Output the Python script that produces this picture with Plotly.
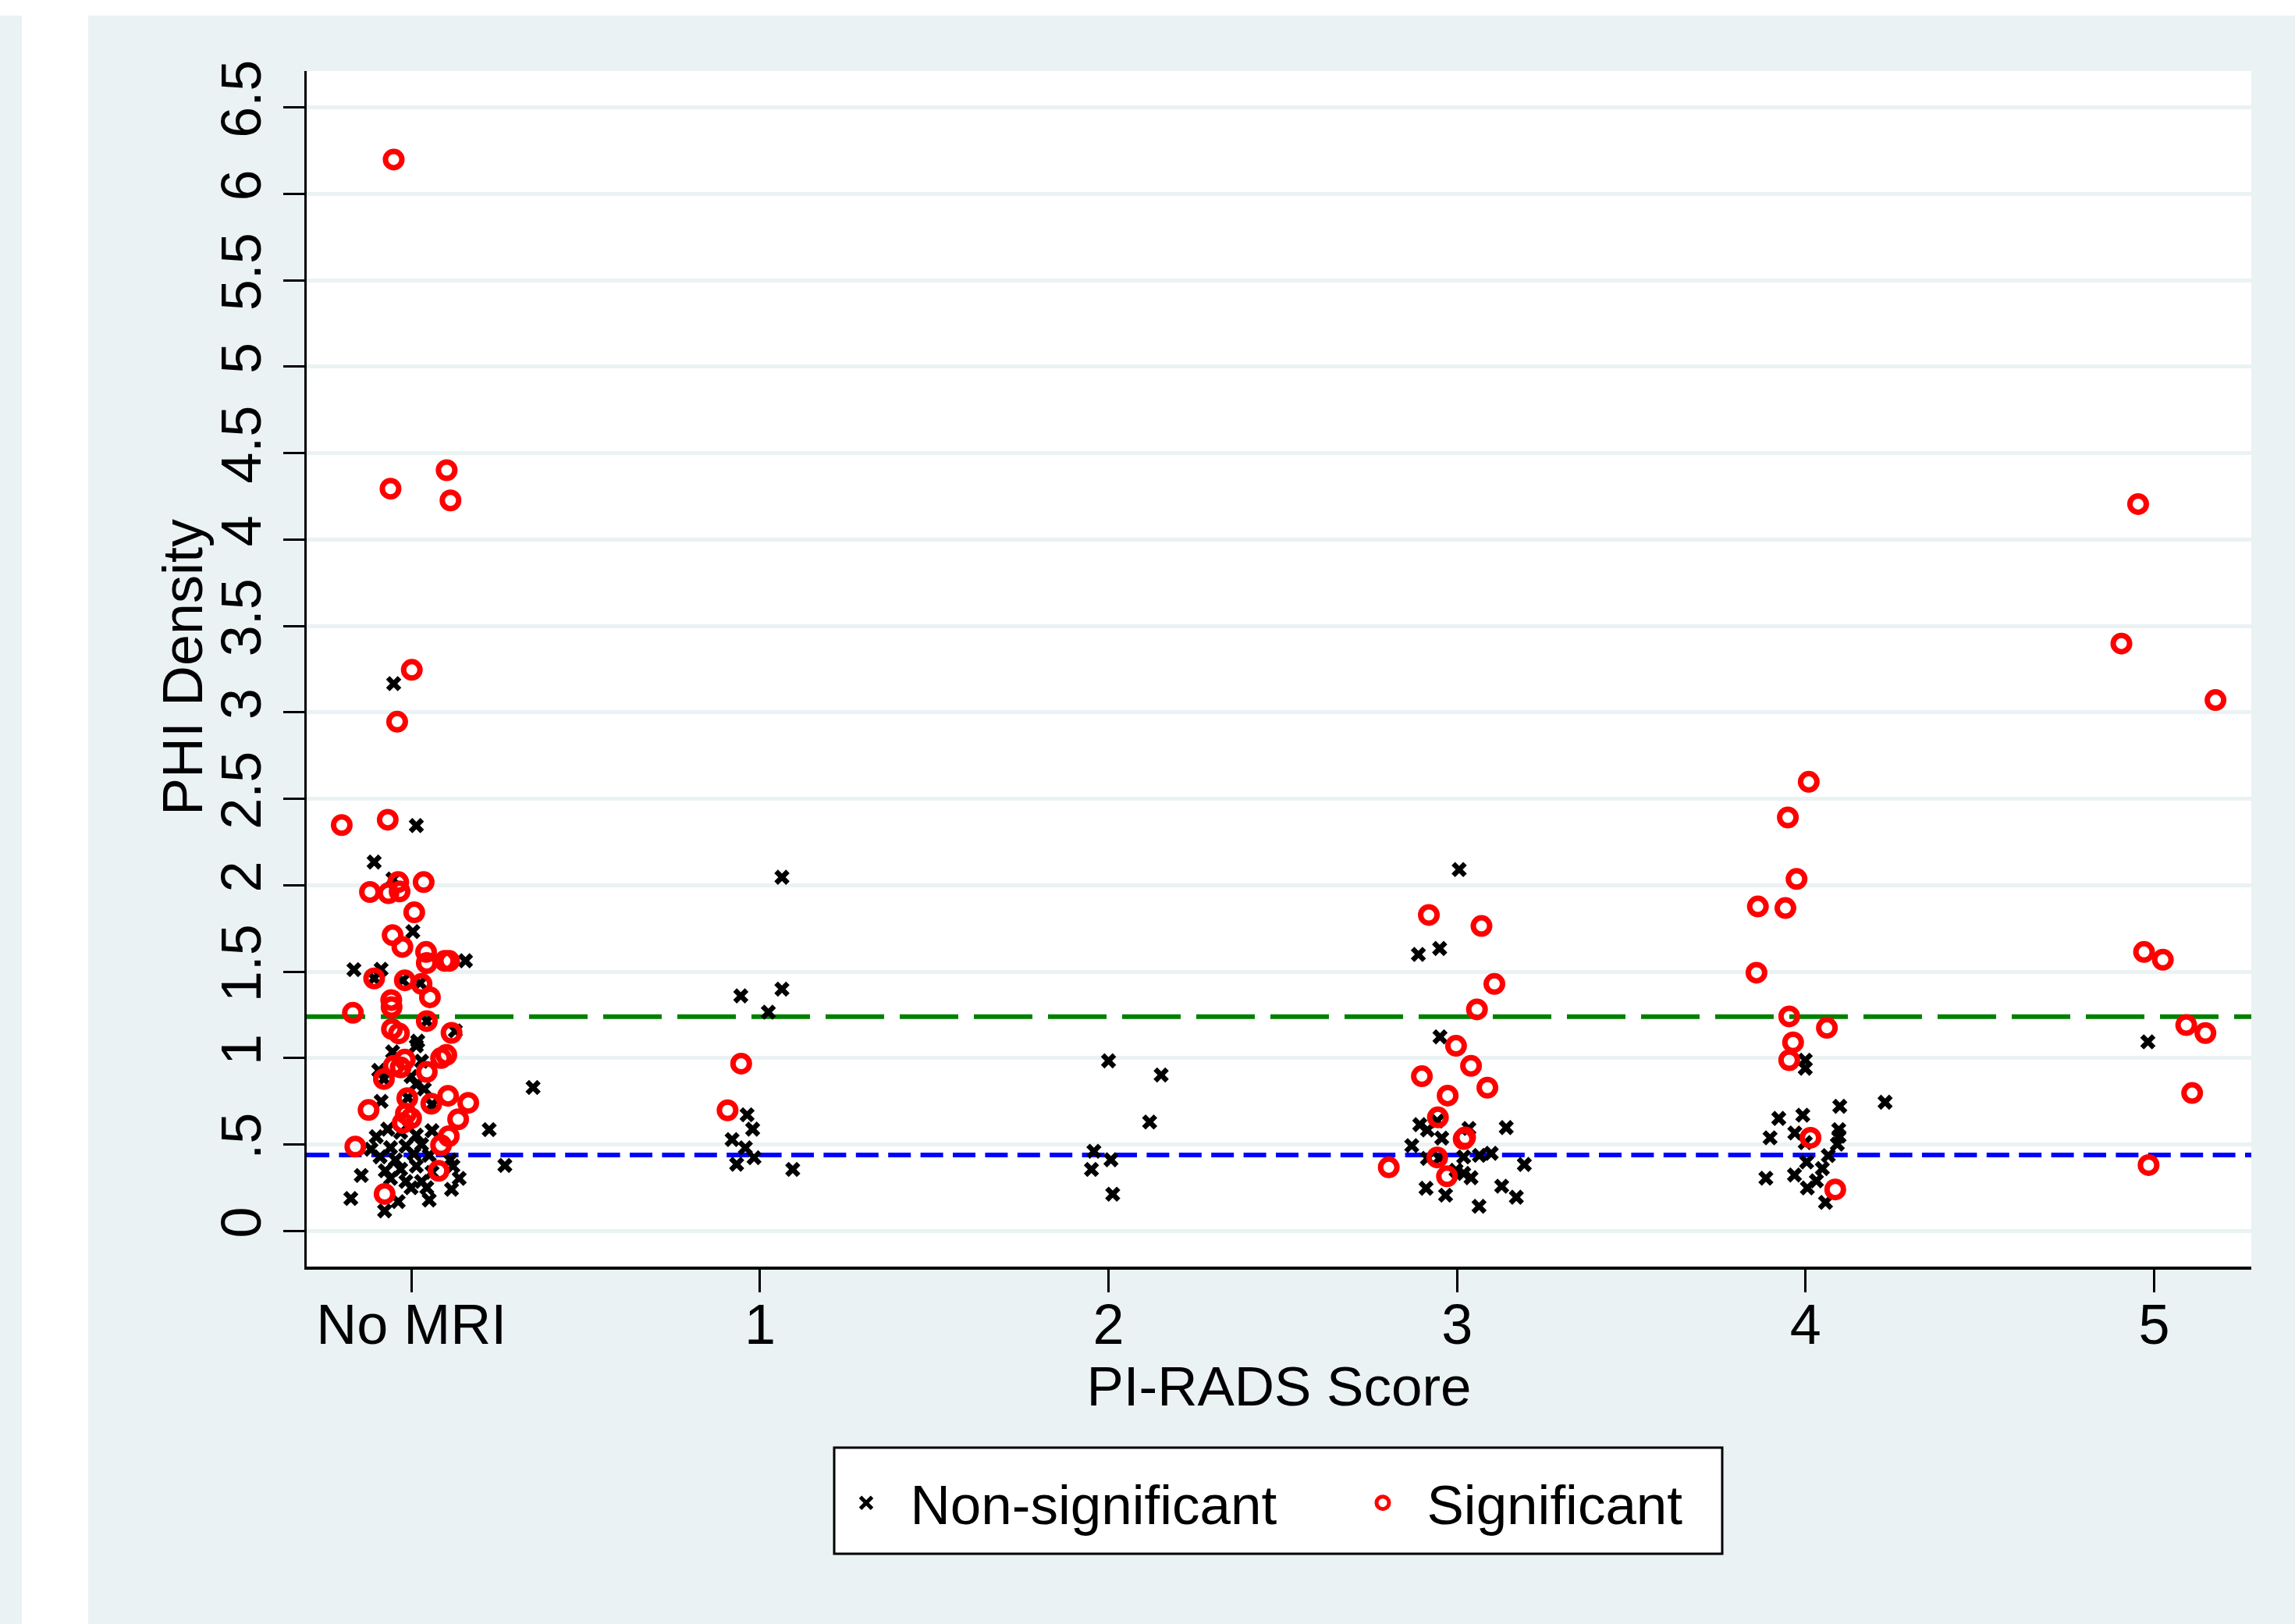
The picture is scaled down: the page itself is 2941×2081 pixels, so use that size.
import plotly.graph_objects as go

# ---------------- data ----------------
CATEGORY_TICKS = [0, 1, 2, 3, 4, 5]
CATEGORY_LABELS = ["No MRI", "1", "2", "3", "4", "5"]
Y_TICKS = [0, 0.5, 1, 1.5, 2, 2.5, 3, 3.5, 4, 4.5, 5, 5.5, 6, 6.5]
Y_TICK_LABELS = ["0", ".5", "1", "1.5", "2", "2.5", "3", "3.5", "4", "4.5", "5", "5.5", "6", "6.5"]
THRESHOLD_GREEN = 1.24
THRESHOLD_BLUE = 0.44

# No MRI
nomri_sig_x = [-0.051, -0.060, 0.101, 0.112, 0.001, -0.041,
               -0.200, -0.068, -0.119, -0.066, -0.038, -0.034, 0.035, 0.008, -0.054, -0.026,
               0.042, 0.044, 0.096, 0.108, -0.107, -0.019, 0.029, 0.053, -0.058, -0.057,
               -0.168, 0.044, -0.056, -0.036, 0.115, 0.100, 0.085, -0.019, -0.051, -0.031,
               0.044, -0.079, -0.012, 0.057, 0.105, 0.163, -0.123, -0.016, -0.001, -0.025,
               0.134, 0.107, 0.085, -0.161, 0.078, -0.077]
nomri_sig_y = [6.198, 4.294, 4.401, 4.226, 3.246, 2.946,
               2.348, 2.379, 1.961, 1.954, 2.018, 1.964, 2.018, 1.843, 1.711, 1.643,
               1.614, 1.550, 1.562, 1.562, 1.461, 1.450, 1.429, 1.352, 1.336, 1.295,
               1.262, 1.214, 1.168, 1.143, 1.146, 1.018, 1.000, 0.991, 0.955, 0.946,
               0.920, 0.879, 0.768, 0.736, 0.782, 0.741, 0.700, 0.679, 0.652, 0.625,
               0.646, 0.548, 0.496, 0.488, 0.348, 0.214]
nomri_non_x = [-0.051, 0.014, -0.107, -0.053, 0.004, 0.155, -0.165, -0.087, -0.107, 0.025,
               -0.025, 0.044, 0.126, 0.018, 0.014, -0.054, 0.029, -0.094, -0.001, 0.014,
               -0.079, 0.037, -0.087, 0.059, -0.010, 0.060, 0.349, 0.223, 0.268, -0.101,
               -0.068, -0.031, 0.014, 0.059, -0.116, -0.060, -0.016, 0.029, -0.090, -0.046,
               0.007, 0.051, 0.111, -0.075, -0.031, 0.014, 0.059, -0.060, -0.016, 0.029,
               0.044, 0.119, 0.137, 0.115, -0.144, -0.174, -0.038, 0.051, -0.077, -0.001]
nomri_non_y = [3.166, 2.345, 2.134, 2.036, 1.732, 1.563, 1.512, 1.514, 1.461, 1.434,
               1.450, 1.214, 1.157, 1.098, 1.071, 1.036, 0.982, 0.929, 0.893, 0.848,
               0.879, 0.821, 0.750, 0.732, 0.770, 0.730, 0.830, 0.586, 0.379, 0.545,
               0.589, 0.571, 0.554, 0.580, 0.473, 0.482, 0.491, 0.500, 0.429, 0.411,
               0.446, 0.438, 0.411, 0.348, 0.357, 0.375, 0.339, 0.304, 0.286, 0.286,
               0.250, 0.375, 0.304, 0.241, 0.321, 0.188, 0.170, 0.179, 0.116, 0.250]

# PI-RADS 1
p1_sig_x = [0.946, 0.907]
p1_sig_y = [0.968, 0.698]
p1_non_x = [1.063, 0.945, 1.063, 1.024, 0.963, 0.979, 0.920, 0.958, 0.983, 0.933, 1.094]
p1_non_y = [2.046, 1.360, 1.399, 1.266, 0.672, 0.589, 0.529, 0.481, 0.424, 0.386, 0.356]

# PI-RADS 2
p2_non_x = [2.000, 2.151, 2.118, 1.958, 2.007, 1.951, 2.012]
p2_non_y = [0.984, 0.902, 0.630, 0.461, 0.412, 0.356, 0.213]

# PI-RADS 3
p3_sig_x = [2.919, 3.070, 3.107, 3.057, 2.997, 3.040, 2.899, 3.087, 2.973, 2.945,
            3.019, 3.023, 2.943, 2.971, 2.804]
p3_sig_y = [1.828, 1.764, 1.429, 1.282, 1.071, 0.955, 0.895, 0.829, 0.783, 0.657,
            0.532, 0.541, 0.425, 0.316, 0.368]
p3_non_x = [3.006, 2.889, 2.950, 2.951, 2.893, 2.915, 2.943, 2.956, 3.034, 3.141,
            2.870, 2.915, 2.949, 3.019, 3.064, 3.098, 2.997, 3.019, 3.040, 3.193,
            2.911, 2.967, 3.063, 3.128, 3.170]
p3_non_y = [2.091, 1.600, 1.634, 1.123, 0.615, 0.584, 0.636, 0.537, 0.593, 0.598,
            0.494, 0.420, 0.420, 0.428, 0.437, 0.449, 0.351, 0.333, 0.308, 0.385,
            0.247, 0.207, 0.143, 0.259, 0.195]

# PI-RADS 4
p4_sig_x = [4.009, 3.949, 3.974, 3.863, 3.942, 3.859, 3.953, 4.061, 3.964, 3.953, 4.014, 4.085]
p4_sig_y = [2.598, 2.392, 2.036, 1.877, 1.868, 1.494, 1.241, 1.175, 1.091, 0.988, 0.539, 0.240]
p4_non_x = [3.999, 3.999, 4.228, 4.098, 3.923, 3.992, 3.898, 3.969, 4.095, 4.096,
            3.999, 4.091, 4.065, 4.003, 4.048, 3.968, 3.886, 4.031, 4.005, 4.057]
p4_non_y = [0.988, 0.941, 0.745, 0.721, 0.651, 0.670, 0.539, 0.567, 0.586, 0.548,
            0.511, 0.502, 0.436, 0.399, 0.361, 0.324, 0.305, 0.290, 0.249, 0.165]

# PI-RADS 5
p5_sig_x = [4.954, 4.906, 5.176, 4.971, 5.025, 5.092, 5.147, 5.109, 4.984]
p5_sig_y = [4.205, 3.398, 3.071, 1.614, 1.569, 1.191, 1.145, 0.798, 0.381]
p5_non_x = [4.982]
p5_non_y = [1.094]

# ---------------- layout constants ----------------
W, H = 2941, 2081
ML, MR, MT, MB = 393, 56, 91, 458
PW = W - ML - MR
PH = H - MT - MB


def px_x(px):
    return (px - ML) / PW


def px_y(py):
    return (H - MB - py) / PH


BG = "#EAF2F3"
FONT = "Liberation Sans, Arial, Helvetica, sans-serif"
FS = 72

non_x = nomri_non_x + p1_non_x + p2_non_x + p3_non_x + p4_non_x + p5_non_x
non_y = nomri_non_y + p1_non_y + p2_non_y + p3_non_y + p4_non_y + p5_non_y
sig_x = nomri_sig_x + p1_sig_x + p3_sig_x + p4_sig_x + p5_sig_x
sig_y = nomri_sig_y + p1_sig_y + p3_sig_y + p4_sig_y + p5_sig_y

fig = go.Figure()
fig.add_trace(go.Scatter(
    x=non_x, y=non_y, mode="markers", name="Non-significant",
    marker=dict(symbol="x-thin", size=15, color="black",
                line=dict(color="black", width=6.5)),
))
fig.add_trace(go.Scatter(
    x=sig_x, y=sig_y, mode="markers", name="Significant",
    marker=dict(symbol="circle-open", size=21, color="#FF0000",
                line=dict(color="#FF0000", width=7)),
))

shapes = [
    # white strips of the page
    dict(type="rect", xref="paper", yref="paper", x0=px_x(28), x1=px_x(113),
         y0=px_y(H), y1=px_y(0), fillcolor="white", line=dict(width=0), layer="below"),
    dict(type="rect", xref="paper", yref="paper", x0=px_x(0), x1=px_x(W),
         y0=px_y(20), y1=px_y(0), fillcolor="white", line=dict(width=0), layer="below"),
    # reference lines
    dict(type="line", xref="paper", yref="y", x0=0, x1=1, y0=THRESHOLD_GREEN, y1=THRESHOLD_GREEN,
         line=dict(color="#008000", width=6, dash="75px,20px"), layer="between"),
    dict(type="line", xref="paper", yref="y", x0=0, x1=1, y0=THRESHOLD_BLUE, y1=THRESHOLD_BLUE,
         line=dict(color="#0000FF", width=6, dash="29px,12.4px"), layer="between"),
    # legend box
    dict(type="rect", xref="paper", yref="paper", x0=px_x(1069), x1=px_x(2207),
         y0=px_y(1991), y1=px_y(1855), fillcolor="white",
         line=dict(color="black", width=3), layer="above"),
]

annotations = [
    dict(text="PHI Density", xref="paper", yref="paper", x=px_x(234), y=px_y(855),
         xanchor="center", yanchor="middle", textangle=-90, showarrow=False,
         font=dict(family=FONT, size=FS, color="black")),
]

fig.update_layout(
    width=W, height=H,
    margin=dict(l=ML, r=MR, t=MT, b=MB, pad=0),
    paper_bgcolor=BG, plot_bgcolor="white",
    font=dict(family=FONT, size=FS, color="black"),
    showlegend=True,
    legend=dict(orientation="h", x=px_x(1053.5), xanchor="left",
                y=px_y(1926), yanchor="middle",
                bgcolor="rgba(0,0,0,0)", borderwidth=0,
                font=dict(family=FONT, size=71, color="black"),
                itemwidth=103, entrywidth=544, entrywidthmode="pixels",
                itemclick=False),
    shapes=shapes,
    annotations=annotations,
    xaxis=dict(
        range=[-0.3006, 5.2787], tickmode="array", tickvals=CATEGORY_TICKS,
        ticktext=CATEGORY_LABELS, showgrid=False, zeroline=False,
        showline=True, linecolor="black", linewidth=3.5,
        ticks="outside", ticklen=29, tickwidth=2.5, tickcolor="black",
        ticklabelstandoff=-20,
        tickfont=dict(family=FONT, size=FS, color="black"),
        title=dict(text="PI-RADS Score", font=dict(family=FONT, size=71, color="black"),
                   standoff=15),
        automargin=False,
    ),
    yaxis=dict(
        range=[-0.206, 6.710], tickmode="array", tickvals=Y_TICKS,
        ticktext=Y_TICK_LABELS, tickangle=-90,
        showgrid=True, gridcolor=BG, gridwidth=5, zeroline=False,
        showline=True, linecolor="black", linewidth=3,
        ticks="outside", ticklen=27, tickwidth=3, tickcolor="black",
        tickfont=dict(family=FONT, size=FS, color="black"),
        automargin=False,
    ),
)

fig.write_html("out.html")
